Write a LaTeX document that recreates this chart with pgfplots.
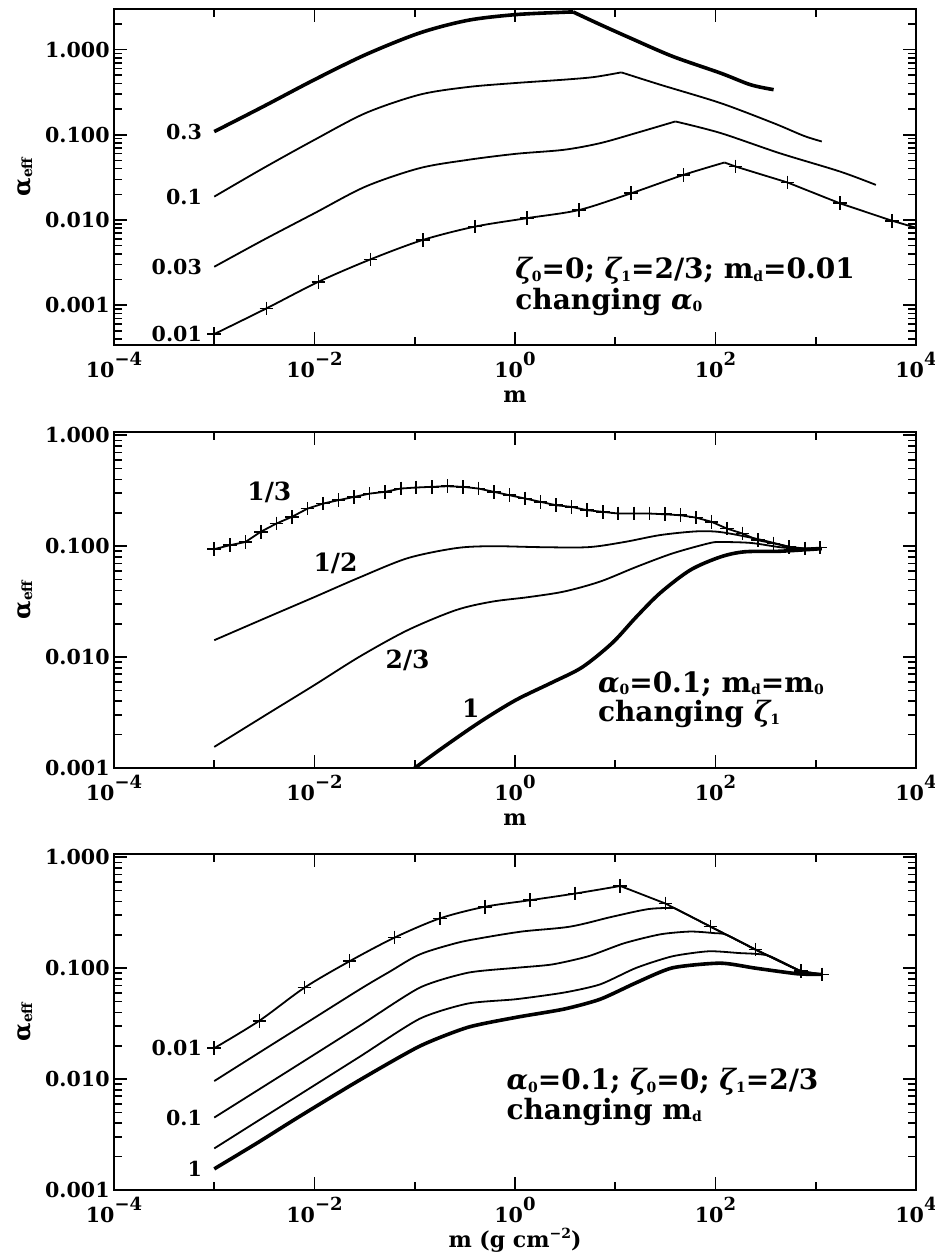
\documentclass[border=0pt]{standalone}
\usepackage{fontspec}
\setmainfont{DejaVu Serif}
\usepackage{pgfplots}
\pgfplotsset{compat=1.18}

\newcommand{\sub}[1]{\raisebox{-0.15ex}{\fontsize{7}{7}\selectfont #1}}
\newcommand{\gz}{{\itshape ζ}}
\newcommand{\ga}{{\itshape α}}
\newcommand{\ex}[1]{10\raisebox{6.2pt}{\fontsize{9}{9}\selectfont #1}}
\newcommand{\lbl}{\fontsize{10.3}{12}\selectfont\bfseries}
\newcommand{\lblb}{\fontsize{12.5}{14}\selectfont\bfseries}
\newcommand{\ann}{\fontsize{14}{16}\selectfont\bfseries}

\pgfplotsset{
  every axis/.append style={
    scale only axis, width=401pt, height=168pt,
    xmin=1e-4, xmax=1e4,
    xtick={1e-4,1e-2,1,1e2,1e4},
    xticklabels={\ex{−4},\ex{−2},\ex{0},\ex{2},\ex{4}},
    minor xtick={1e-3,1e-1,1e1,1e3},
    ytick={1e-3,1e-2,1e-1,1},
    yticklabels={0.001,0.010,0.100,1.000},
    minor ytick={4e-4,5e-4,6e-4,7e-4,8e-4,9e-4,
      2e-3,3e-3,4e-3,5e-3,6e-3,7e-3,8e-3,9e-3,
      0.02,0.03,0.04,0.05,0.06,0.07,0.08,0.09,
      0.2,0.3,0.4,0.5,0.6,0.7,0.8,0.9,2,3},
    tick label style={font=\lbl},
    yticklabel style={inner sep=2pt},
    major tick length=6.5pt, minor tick length=3.8pt,
    tick style={black, line width=0.8pt},
    axis line style={line width=1.1pt},
    ylabel={α\sub{eff}},
    ylabel style={at={(axis description cs:-0.111,0.5)}, anchor=center, font=\fontsize{12}{12}\selectfont\bfseries},
    xlabel style={at={(axis description cs:0.5,-0.172)}, anchor=base, font=\fontsize{11}{12}\selectfont\bfseries},
  },
  cthin/.style={black, line width=0.9pt, mark=none},
  cthick/.style={black, line width=1.8pt, mark=none},
  cmark/.style={black, only marks, mark=+, mark size=3.4pt, mark options={line width=0.8pt}},
}

\begin{document}
\begin{tikzpicture}
\useasboundingbox (0,0) rectangle (467.5pt,-629.5pt);

% ---------------- Panel 1 ----------------
\begin{loglogaxis}[anchor=north west, at={(57pt,-4.5pt)}, ymin=3.4e-4, ymax=3, xlabel={m}]
% alpha0 = 0.3 (thick)
\addplot[cthick, smooth, tension=0.5] coordinates {
 (0.001,0.109) (0.00309,0.215) (0.01,0.444) (0.0324,0.874) (0.112,1.57)
 (0.339,2.21) (1.023,2.58) (3.09,2.75) (3.8,2.77)};
\addplot[cthick, smooth, tension=0.5] coordinates {
 (3.8,2.77) (7.08,1.97) (14.1,1.37) (37.2,0.835) (112,0.531) (224,0.387) (380,0.339)};
% alpha0 = 0.1
\addplot[cthin, smooth, tension=0.5] coordinates {
 (0.001,0.0188) (0.00309,0.0406) (0.01,0.0873) (0.0324,0.18) (0.112,0.296)
 (0.339,0.364) (1.023,0.406) (3.09,0.444) (6.17,0.477) (11.5,0.541)};
\addplot[cthin, smooth, tension=0.5] coordinates {
 (11.5,0.541) (28.2,0.387) (112,0.236) (380,0.137) (759,0.0973) (1148,0.0835)};
% alpha0 = 0.03
\addplot[cthin, smooth, tension=0.5] coordinates {
 (0.001,0.00282) (0.00309,0.00582) (0.01,0.012) (0.0324,0.0247) (0.112,0.0406)
 (0.339,0.0508) (1.023,0.0598) (3.09,0.0667) (7.08,0.0798) (16.2,0.105)
 (39.8,0.1435)};
\addplot[cthin, smooth, tension=0.5] coordinates {
 (39.8,0.1435) (112,0.105) (437,0.0608) (1738,0.0371) (3981,0.0258)};
% alpha0 = 0.01 (crosses)
\addplot[cthin, smooth, tension=0.5] coordinates {
 (0.001,0.000457) (0.00331,0.000914) (0.01096,0.00188) (0.0363,0.00345)
 (0.1202,0.00582) (0.398,0.00835) (1.318,0.0105) (4.365,0.0131) (14.45,0.0206)
 (47.86,0.0338) (123,0.0473)};
\addplot[cthin] coordinates {
 (123,0.0473) (158.5,0.0424) (524.8,0.0275) (1738,0.0157) (5754,0.0098) (10000,0.0081)};
\addplot[cmark] coordinates {
 (0.001,0.000457) (0.00331,0.000914) (0.01096,0.00188) (0.0363,0.00345)
 (0.1202,0.00582) (0.398,0.00835) (1.318,0.0105) (4.365,0.0131) (14.45,0.0206)
 (47.86,0.0338) (158.5,0.0424) (524.8,0.0275) (1738,0.0157) (5754,0.0098)};
\node[anchor=east, inner sep=0pt, xshift=-6pt, font=\lbl] at (axis cs:0.001,0.109) {0.3};
\node[anchor=east, inner sep=0pt, xshift=-6pt, font=\lbl] at (axis cs:0.001,0.0188) {0.1};
\node[anchor=east, inner sep=0pt, xshift=-6pt, font=\lbl] at (axis cs:0.001,0.00282) {0.03};
\node[anchor=east, inner sep=0pt, xshift=-6pt, font=\lbl] at (axis cs:0.001,0.000457) {0.01};
\node[anchor=base west, inner sep=0pt, font=\ann] at (rel axis cs:0.5,0.197)
  {\gz\sub{0}=0; \gz\sub{1}=2/3; m\sub{d}=0.01};
\node[anchor=base west, inner sep=0pt, font=\ann] at (rel axis cs:0.5,0.107)
  {changing \ga\sub{0}};
\end{loglogaxis}

% ---------------- Panel 2 ----------------
\begin{loglogaxis}[anchor=north west, at={(57pt,-216pt)}, ymin=1e-3, ymax=1.07, xlabel={m}]
\addplot[cthin, mark=+, mark size=3.4pt, mark options={line width=0.8pt}] coordinates {
 (0.001,0.094) (0.001429,0.102) (0.002042,0.109) (0.002917,0.135) (0.004169,0.160)
 (0.005957,0.184) (0.008511,0.218) (0.01216,0.242) (0.01738,0.26) (0.02483,0.278)
 (0.03548,0.298) (0.0507,0.309) (0.07244,0.331) (0.1035,0.338) (0.1479,0.343)
 (0.2113,0.347) (0.302,0.343) (0.4315,0.331) (0.6166,0.309) (0.881,0.288)
 (1.259,0.269) (1.799,0.251) (2.570,0.234) (3.673,0.226) (5.248,0.211)
 (7.499,0.204) (10.72,0.197) (15.31,0.197) (21.88,0.197) (31.26,0.194)
 (44.67,0.19) (63.83,0.181) (91.2,0.166) (130.3,0.144) (186.2,0.13)
 (266.1,0.113) (380.2,0.106) (543.3,0.0986) (776.2,0.0953) (1109,0.097)};
\addplot[cthin, smooth, tension=0.5] coordinates {
 (0.001,0.0142) (0.00355,0.0233) (0.01,0.0348) (0.0282,0.0523) (0.0851,0.078)
 (0.257,0.096) (0.589,0.1) (1.78,0.098) (5.37,0.098) (12.3,0.109) (28.2,0.126)
 (64.6,0.136) (112,0.134) (251,0.117) (575,0.098) (871,0.095) (1148,0.095)};
\addplot[cthin, smooth, tension=0.5] coordinates {
 (0.001,0.00155) (0.00355,0.00315) (0.01,0.0056) (0.0282,0.0101) (0.0851,0.0175)
 (0.257,0.0265) (0.589,0.0316) (1.35,0.0347) (3.09,0.039) (7.08,0.048)
 (16.2,0.065) (37.2,0.086) (85.1,0.106) (112,0.109) (224,0.107) (437,0.098)
 (759,0.094) (1148,0.096)};
\addplot[cthick, smooth, tension=0.5] coordinates {
 (0.05,0.00063) (0.1,0.001) (0.195,0.00155) (0.447,0.0026) (1.02,0.0041)
 (2.34,0.0059) (4.68,0.0081) (9.33,0.0134) (16.2,0.023) (28.2,0.038)
 (56.2,0.061) (112,0.08) (195,0.089) (437,0.09) (1148,0.095)};
\node[font=\lblb] at (axis cs:0.00355,0.306) {1/3};
\node[font=\lblb] at (axis cs:0.0162,0.0703) {1/2};
\node[font=\lblb] at (axis cs:0.085,0.0094) {2/3};
\node[font=\lblb] at (axis cs:0.363,0.00347) {1};
\node[anchor=base west, inner sep=0pt, font=\ann] at (rel axis cs:0.603,0.226)
  {\ga\sub{0}=0.1; m\sub{d}=m\sub{0}};
\node[anchor=base west, inner sep=0pt, font=\ann] at (rel axis cs:0.603,0.137)
  {changing \gz\sub{1}};
\end{loglogaxis}

% ---------------- Panel 3 ----------------
\begin{loglogaxis}[anchor=north west, at={(57pt,-427pt)}, ymin=1e-3, ymax=1.07,
  xlabel={m (g cm\raisebox{0.8ex}{\fontsize{7}{7}\selectfont −2})}]
% m_d = 0.01 (crosses)
\addplot[cthin, smooth, tension=0.5] coordinates {
 (0.001,0.019) (0.002818,0.0336) (0.007943,0.0667) (0.02239,0.1155) (0.0631,0.189)
 (0.1778,0.281) (0.5012,0.358) (1.413,0.41) (3.981,0.471) (11.22,0.551)};
\addplot[cthin] coordinates {
 (11.22,0.551) (31.62,0.383) (89.13,0.237) (251.2,0.147) (707.9,0.094) (1150,0.088)};
\addplot[cmark] coordinates {
 (0.001,0.019) (0.002818,0.0336) (0.007943,0.0667) (0.02239,0.1155) (0.0631,0.189)
 (0.1778,0.281) (0.5012,0.358) (1.413,0.41) (3.981,0.471) (11.22,0.551)
 (31.62,0.383) (89.13,0.237) (251.2,0.147) (707.9,0.094) (1150,0.088)};
% second curve
\addplot[cthin, smooth, tension=0.5] coordinates {
 (0.001,0.0096) (0.00269,0.0169) (0.00708,0.0293) (0.0282,0.0643) (0.0562,0.093)
 (0.112,0.133) (0.257,0.168) (0.447,0.186) (1.17,0.214) (3.55,0.237) (9.33,0.291)
 (21.4,0.341) (38.5,0.35)};
\addplot[cthin] coordinates {
 (38.5,0.35) (89.13,0.237) (251.2,0.147) (707.9,0.094) (1150,0.088)};
% m_d = 0.1
\addplot[cthin, smooth, tension=0.4] coordinates {
 (0.001,0.0045) (0.00269,0.0079) (0.00708,0.0137) (0.0282,0.0302) (0.112,0.0667)
 (0.339,0.091) (1.02,0.1007) (2.34,0.108) (5.37,0.128) (12.3,0.168) (28.2,0.202)
 (56.2,0.214) (97.7,0.207) (129,0.2) (251.2,0.147) (707.9,0.094) (1150,0.088)};
% fourth curve
\addplot[cthin, smooth, tension=0.4] coordinates {
 (0.001,0.00237) (0.00269,0.00417) (0.00708,0.00723) (0.0282,0.0159) (0.112,0.035)
 (0.339,0.048) (1.02,0.0525) (3.09,0.0603) (7.08,0.0715) (16.2,0.1007)
 (37.2,0.128) (85.1,0.142) (170,0.137) (334,0.13) (707.9,0.094) (1150,0.088)};
% m_d = 1 (thick)
\addplot[cthick, smooth, tension=0.4] coordinates {
 (0.001,0.00155) (0.00269,0.00266) (0.00708,0.0046) (0.0282,0.0098) (0.112,0.0198)
 (0.339,0.0293) (1.02,0.036) (3.09,0.0428) (7.08,0.0525) (16.2,0.074)
 (37.2,0.1007) (112,0.111) (251,0.1) (661,0.089) (1150,0.088)};
\node[anchor=east, inner sep=0pt, xshift=-6pt, font=\lbl] at (axis cs:0.001,0.019) {0.01};
\node[anchor=east, inner sep=0pt, xshift=-6pt, font=\lbl] at (axis cs:0.001,0.0045) {0.1};
\node[anchor=east, inner sep=0pt, xshift=-6pt, font=\lbl] at (axis cs:0.001,0.00155) {1};
\node[anchor=base west, inner sep=0pt, font=\ann] at (rel axis cs:0.489,0.298)
  {\ga\sub{0}=0.1; \gz\sub{0}=0; \gz\sub{1}=2/3};
\node[anchor=base west, inner sep=0pt, font=\ann] at (rel axis cs:0.489,0.211)
  {changing m\sub{d}};
\end{loglogaxis}
\end{tikzpicture}
\end{document}
